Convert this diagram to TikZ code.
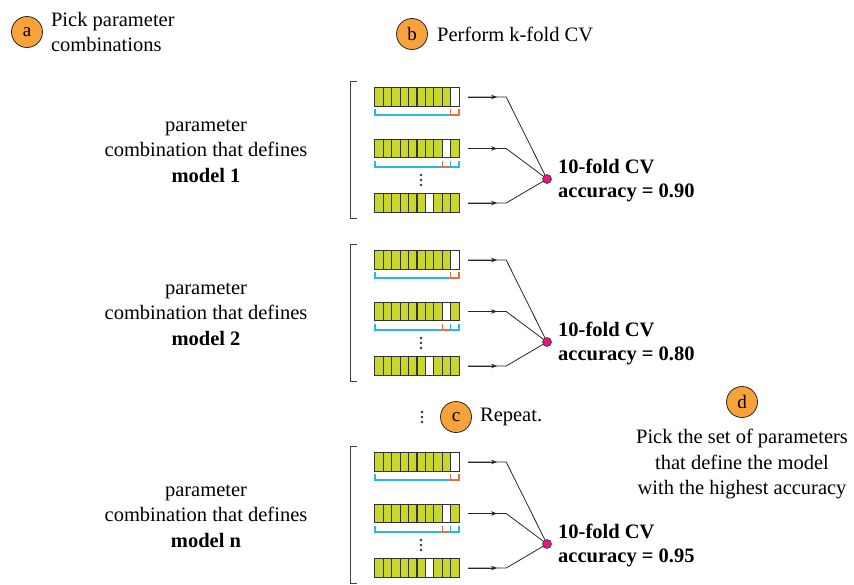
\documentclass[tikz,border=0pt]{standalone}
\usepackage{fontspec}
\setmainfont{Liberation Serif}
\usetikzlibrary{arrows.meta, positioning, calc}
\definecolor{foldfill}{HTML}{C9D62B}
\definecolor{foldline}{HTML}{333333}
\definecolor{trainline}{HTML}{2BB6E8}
\definecolor{testline}{HTML}{EC6B3F}
\definecolor{stepfill}{HTML}{F7A23B}
\definecolor{hubfill}{HTML}{E5177E}
\newcommand{\foldbrace}[4]{%
  \draw[#1] (375+8.4*#2,#4-6) -- (375+8.4*#2,#4) -- (375+8.4*#3,#4) -- (375+8.4*#3,#4-6);}
\tikzset{
    base/.style={font=\fontsize{20.5}{25.5}\selectfont, inner sep=0pt},
    stepcircle/.style={circle, draw=black!85, line width=0.8pt, fill=stepfill,
                       minimum size=31pt, inner sep=0pt, font=\fontsize{19}{19}\selectfont},
    steptext/.style={base, align=left},
    modeltext/.style={base, align=center},
    result/.style={base, align=left, font=\bfseries\fontsize{20.5}{24}\selectfont},
    foldbar/.style={rectangle, minimum width=84pt, minimum height=18pt, inner sep=0pt},
    fold/.style={draw=foldline, line width=1.1pt},
    hub/.style={circle, fill=hubfill, draw=black!80, line width=0.6pt, minimum size=9pt, inner sep=0pt},
    arr/.style={-{Stealth[length=6pt, width=4.5pt]}, line width=0.8pt, color=black!85},
    link/.style={line width=0.8pt, color=black!85},
    trainbr/.style={draw=trainline, line width=1.2pt},
    testbr/.style={draw=testline, line width=1.2pt},
    groupbr/.style={line width=1pt, draw=black!75},
    dot/.style={circle, fill=black!80, minimum size=2.6pt, inner sep=0pt},
}

\begin{document}
\begin{tikzpicture}[x=1pt, y=-1pt]
  \useasboundingbox (0,0) rectangle (854,584);

  % steps
  \node[stepcircle] (a) at (27,32) {a};
  \node[steptext, right=8pt of a] (atext) {Pick parameter\\combinations};
  \node[stepcircle] (b) at (412,34) {b};
  \node[steptext, right=9pt of b] (btext) {Perform k-fold CV};
  \node[stepcircle] (c) at (456,417) {c};
  \node[steptext, right=8pt of c] (ctext) {Repeat.};
  \node[stepcircle] (d) at (742,402) {d};
  \node[modeltext, below=11pt of d] (dtext)
        {Pick the set of parameters\\that define the model\\with the highest accuracy};
  \foreach \y in {412,417,422}
    \node[dot] at (422,\y) {};

  % one group per model
  \foreach \g/\gy/\acc in {1/97/0.90, 2/260/0.80, n/462/0.95} {
    \node[modeltext] (g\g txt) at (206,\gy+54)
          {parameter\\combination that defines\\\textbf{model \g}};
    \draw[groupbr] (357,\gy-16) -- (350,\gy-16) -- (350,\gy+121) -- (357,\gy+121);

    \node[foldbar] (g\g b1) at (417,\gy) {};
    \node[foldbar] (g\g b2) at (417,\gy+51.5) {};
    \node[foldbar] (g\g b3) at (417,\gy+106) {};
    \node[hub] (g\g hub) at (547,\gy+82) {};

    \foreach \b/\w in {1/10, 2/9, 3/7} {
      \foreach \c in {1,...,10} {
        \ifnum\c=\w \def\cellfill{white}\else\def\cellfill{foldfill}\fi
        \draw[fold, fill=\cellfill]
          ($(g\g b\b.south west)!{(\c-1)/10}!(g\g b\b.south east)$) rectangle
          ($(g\g b\b.north west)!{\c/10}!(g\g b\b.north east)$);
      }
      \coordinate (g\g s\b) at ([xshift=9pt]g\g b\b.east);
      \coordinate (g\g k\b) at ([xshift=47pt]g\g b\b.east);
      \draw[arr] (g\g s\b) -- ($(g\g s\b)!0.76!(g\g k\b)$);
      \draw[link] (g\g s\b) -- (g\g k\b) -- (g\g hub);
    }

    % train / test split
    \foldbrace{trainbr}{0}{9}{\gy+18}
    \foldbrace{testbr}{9}{10}{\gy+18}
    \foldbrace{trainbr}{0}{8}{\gy+70}
    \foldbrace{testbr}{8}{9}{\gy+70}
    \foldbrace{trainbr}{9}{10}{\gy+70}
    \foreach \dy in {78,83,88}
      \node[dot] at (421,\gy+\dy) {};

    \node[result, anchor=west] (g\g acc) at ([xshift=11pt, yshift=-1pt]g\g hub.center)
          {10-fold CV\\accuracy = \acc};
  }
\end{tikzpicture}
\end{document}
